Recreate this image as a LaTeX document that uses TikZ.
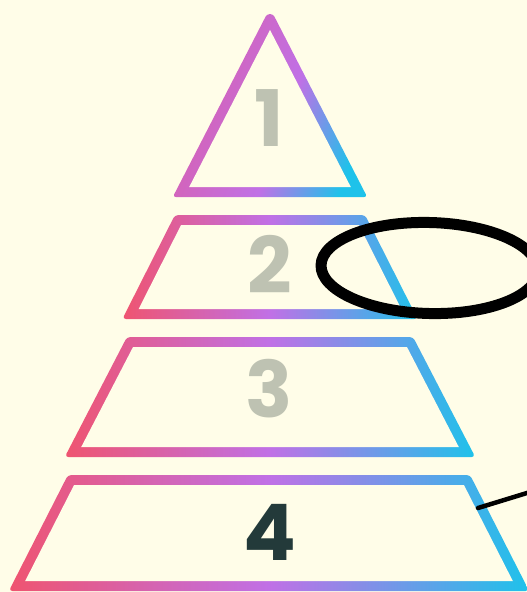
\documentclass[tikz,border=0pt]{standalone}
\usepackage{fontspec}
\newfontfamily\pop{Poppins}
\definecolor{bg}{HTML}{FFFDE8}
\definecolor{gA}{HTML}{EF5470}
\definecolor{gB}{HTML}{C070E6}
\definecolor{gC}{HTML}{1EC2EA}
\definecolor{triA}{HTML}{DA5FAA}
\definecolor{numgray}{HTML}{BEC2B2}
\definecolor{numdark}{HTML}{233A3A}
\pgfdeclarehorizontalshading{pyr}{100bp}{color(0bp)=(gA); color(25bp)=(gA); color(50bp)=(gB); color(75bp)=(gC); color(100bp)=(gC)}
\pgfdeclarehorizontalshading{pyrtop}{100bp}{color(0bp)=(triA); color(25bp)=(triA); color(55bp)=(gB); color(75bp)=(gC); color(100bp)=(gC)}
\def\pyrHW{5}
% #1 cx, #2 top y, #3 bottom y, #4 top half width, #5 bottom half width
\newcommand\pyrlevel[5]{%
  \pgfmathsetmacro\pyrS{(#5-#4)/(#3-#2)}%
  \pgfmathsetmacro\pyrK{\pyrHW*sqrt(1+\pyrS*\pyrS)}%
  \pgfmathsetmacro\pyrOT{#2-\pyrHW}%
  \pgfmathsetmacro\pyrOB{#3+\pyrHW}%
  \pgfmathsetmacro\pyrOTW{#4+\pyrK-\pyrS*\pyrHW}%
  \pgfmathsetmacro\pyrOBW{#5+\pyrK+\pyrS*\pyrHW}%
  \pgfmathsetmacro\pyrIT{#2+\pyrHW}%
  \pgfmathsetmacro\pyrIB{#3-\pyrHW}%
  \pgfmathsetmacro\pyrITW{#4-\pyrK+\pyrS*\pyrHW}%
  \pgfmathsetmacro\pyrIBW{#5-\pyrK-\pyrS*\pyrHW}%
  \shade[shading=pyr, rounded corners=3.5pt]
    (#1-\pyrOTW,\pyrOT) -- (#1+\pyrOTW,\pyrOT) -- (#1+\pyrOBW,\pyrOB) -- (#1-\pyrOBW,\pyrOB) -- cycle;
  \fill[bg]
    (#1-\pyrITW,\pyrIT) -- (#1+\pyrITW,\pyrIT) -- (#1+\pyrIBW,\pyrIB) -- (#1-\pyrIBW,\pyrIB) -- cycle;
}
\tikzset{
  num/.style={font=\pop\bfseries\fontsize{78}{78}\selectfont, inner sep=0pt, anchor=base},
}
\begin{document}
\begin{tikzpicture}[x=1pt,y=-1pt]
\fill[bg] (0,0) rectangle (527,592);
\useasboundingbox (0,0) rectangle (527,592);
% level 1 (triangle)
\shade[shading=pyrtop, shading angle=-20, rounded corners=3pt]
  (266.95,14) -- (273.05,14) -- (367.2,197) -- (172.8,197) -- cycle;
\fill[bg] (270,29.93) -- (350.8,187) -- (189.2,187) -- cycle;
% levels 2-4
\pyrlevel{270}{220}{314}{92}{139.5}
\pyrlevel{270}{342}{452}{140}{197}
\pyrlevel{269}{480}{586}{198}{252}
% numbers
\node[num, text=numgray] (n1) at (269,146) {1};
\node[num, text=numgray] (n2) at (270,293) {2};
\node[num, text=numgray] (n3) at (269.5,417) {3};
\node[num, text=numdark] (n4) at (269.5,560) {4};
% annotations
\draw[line width=11pt, black, rotate around={-1.5:(429.5,268)}] (429.5,268) ellipse [x radius=108.5, y radius=45.5];
\coordinate (lineA) at (478,508);
\coordinate (lineB) at (540,489);
\draw[line width=4.5pt, black, line cap=round] (lineA) -- (lineB);
\end{tikzpicture}
\end{document}
